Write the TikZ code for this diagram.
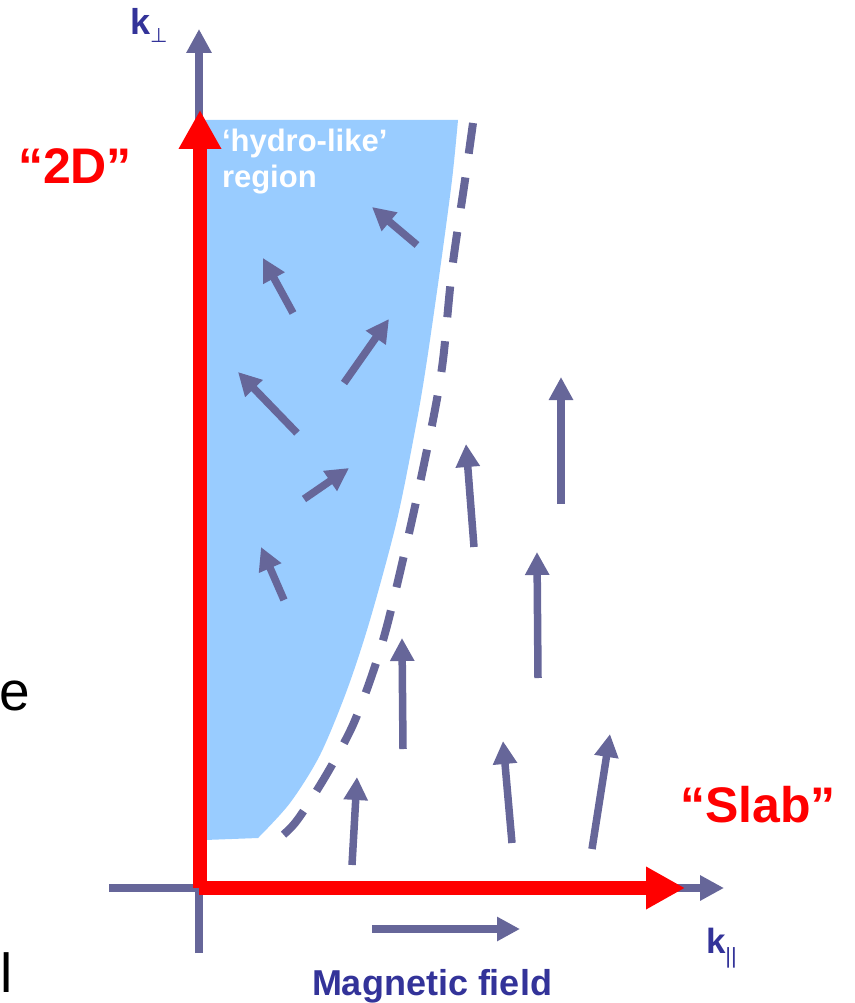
\documentclass[tikz,border=0pt]{standalone}
\usepackage{fontspec}
\setmainfont{Liberation Sans}
\newfontfamily\dejavu{DejaVu Sans}
\usetikzlibrary{arrows.meta}
\definecolor{slate}{HTML}{666699}
\definecolor{regionblue}{HTML}{99CCFF}
\definecolor{labelblue}{HTML}{333399}
\definecolor{axisred}{HTML}{FF0000}
\tikzset{
  field/.style={draw=slate, line width=7.5pt, -{Triangle[length=23pt,width=23pt]}},
  bluaxis/.style={draw=slate, line width=8pt, -{Triangle[length=24pt,width=24pt]}},
  redaxis/.style={draw=axisred, line width=13.5pt, -{Triangle[length=39pt,width=40pt]}},
  boundary/.style={draw=slate, line width=8pt, dash pattern=on 31pt off 24pt},
  lbl/.style={inner sep=0pt, outer sep=0pt},
}
\begin{document}
\begin{tikzpicture}[x=1pt,y=-1pt]
\useasboundingbox (0,0) rectangle (854,1003);
% hydro-like region
\fill[regionblue] (205,120) -- (458,120) -- plot[smooth] coordinates {(458,120) (452,180) (440,270) (427,360) (417,420) (397,520) (370,620) (347,690) (320,755) (290,803) (258,838)} -- (205,840) -- cycle;
% dashed boundary
\draw[boundary] plot[smooth] coordinates {(473,123) (465,180) (452,270) (443,360) (433,420) (412,520) (388,622) (372,675) (352,727) (325,777) (295,823) (271,845)};
% axes
\draw[bluaxis] (199,953) -- (199,29);
\draw[bluaxis] (109,888) -- (724,888);
\draw[redaxis] (200,888) -- (200,110);
\draw[redaxis] (199,888) -- (685,888);
% field arrows
\draw[field] (417,245) -- (372,207);
\draw[field] (293,313) -- (263,258);
\draw[field] (344,383) -- (389,319);
\draw[field] (297,433) -- (238,372);
\draw[field] (304,499) -- (349,468);
\draw[field] (284,600) -- (261,547);
\draw[field] (474,547) -- (466,444);
\draw[field] (561,504) -- (561,377);
\draw[field] (538,678) -- (537,552);
\draw[field] (403,749) -- (402,638);
\draw[field] (352,865) -- (357,777);
\draw[field] (512,843) -- (503,741);
\draw[field] (592,849) -- (610,734);
\draw[field] (372,929) -- (520,929);
% labels
\node[lbl, anchor=base west, text=labelblue] (kperp) at (130,35)
  {\fontsize{36}{36}\selectfont\bfseries k\raisebox{-8pt}{\dejavu\mdseries\fontsize{20}{20}\selectfont ⊥}};
\node[lbl, anchor=base west, text=labelblue] (kpar) at (706,953)
  {\fontsize{35}{35}\selectfont\bfseries k\raisebox{-10pt}{\mdseries\fontsize{22}{22}\selectfont ||}};
\node[lbl, anchor=base, text=axisred] (twod) at (75,183)
  {\fontsize{50}{50}\selectfont\bfseries “2D”};
\node[lbl, anchor=base, text=axisred] (slab) at (758,822)
  {\fontsize{50}{50}\selectfont\bfseries “Slab”};
\node[lbl, anchor=base west, text=white] (hydro) at (222,152)
  {\fontsize{31}{31}\selectfont\bfseries ‘hydro-like’};
\node[lbl, anchor=base west, text=white] (region) at (222,187)
  {\fontsize{31}{31}\selectfont\bfseries region};
\node[lbl, anchor=base west, text=labelblue] (bfield) at (312,995)
  {\fontsize{36}{36}\selectfont\bfseries Magnetic field};
\node[lbl, anchor=base west, text=black] (cute) at (-1,710)
  {\fontsize{55}{55}\selectfont e};
\node[lbl, anchor=base west, text=black] (cutl) at (1,992)
  {\fontsize{55}{55}\selectfont l};
\end{tikzpicture}
\end{document}
